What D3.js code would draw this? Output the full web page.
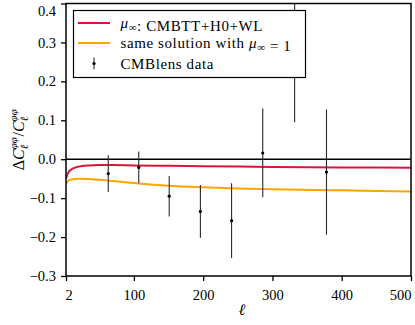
<!DOCTYPE html>
<html>
<head>
<meta charset="utf-8">
<script src="https://cdn.jsdelivr.net/npm/d3@7"></script>
<style>
  body { margin: 0; background: #fff; }
  #chart text { font-family: "Liberation Serif"; fill: #000; }
</style>
</head>
<body>
<svg id="chart" width="415" height="325"></svg>
<script>
// Data
const ellModel = [2, 5, 10, 20, 35, 50, 70, 100, 150, 200, 250, 300, 400, 500];
const muFit   = [-0.050, -0.035, -0.026, -0.019, -0.016, -0.015, -0.015, -0.016, -0.017, -0.018, -0.019, -0.020, -0.021, -0.022];
const muOne   = [-0.062, -0.056, -0.052, -0.050, -0.051, -0.053, -0.056, -0.061, -0.068, -0.072, -0.075, -0.077, -0.080, -0.083];

const ellData = [63, 107, 151, 196, 241, 286, 332, 378];
const dData   = [-0.037, -0.021, -0.095, -0.134, -0.158, 0.016, 0.29, -0.033];
const errData = [0.047, 0.041, 0.052, 0.068, 0.096, 0.114, 0.195, 0.161];

const xTicks = [2, 100, 200, 300, 400, 500];
const yTicks = [-0.3, -0.2, -0.1, 0.0, 0.1, 0.2, 0.3, 0.4];

const legendLabels = ["CMBTT+H0+WL", "same solution with ", "CMBlens data"];

const FONT = "Liberation Serif";

// Layout
var margin = {top: 3.5, right: 4, bottom: 49, left: 66};
var W = 415, H = 325;
var w = W - margin.left - margin.right;
var h = H - margin.top - margin.bottom;

var svg = d3.select("#chart");
var g = svg.append("g").attr("transform", "translate(" + margin.left + "," + margin.top + ")");

var x = d3.scaleLinear().domain([2, 500]).range([0, w]);
var y = d3.scaleLinear().domain([-0.3, 0.4]).range([h, 0]);

g.append("clipPath").attr("id", "clip")
  .append("rect").attr("width", w).attr("height", h);

var plot = g.append("g").attr("clip-path", "url(#clip)");

// zero line
plot.append("line")
  .attr("x1", 0).attr("x2", w)
  .attr("y1", y(0)).attr("y2", y(0))
  .attr("stroke", "#000").attr("stroke-width", 1.5);

var line = d3.line()
  .x(d => x(d[0]))
  .y(d => y(d[1]))
  .curve(d3.curveMonotoneX);

plot.append("path")
  .datum(ellModel.map((l, i) => [l, muOne[i]]))
  .attr("d", line)
  .attr("fill", "none").attr("stroke", "#ffa500").attr("stroke-width", 2);

plot.append("path")
  .datum(ellModel.map((l, i) => [l, muFit[i]]))
  .attr("d", line)
  .attr("fill", "none").attr("stroke", "#dc143c").attr("stroke-width", 2);

// error bars
var pts = ellData.map((l, i) => ({l: l, v: dData[i], e: errData[i]}));
plot.selectAll(".eb").data(pts).enter().append("line")
  .attr("class", "eb")
  .attr("x1", d => x(d.l)).attr("x2", d => x(d.l))
  .attr("y1", d => y(d.v - d.e)).attr("y2", d => y(d.v + d.e))
  .attr("stroke", "#2a2a2a").attr("stroke-width", 1.1);
plot.selectAll(".pt").data(pts).enter().append("circle")
  .attr("class", "pt")
  .attr("cx", d => x(d.l)).attr("cy", d => y(d.v))
  .attr("r", 1.6).attr("fill", "#000");

// axes
var xAxis = g.append("g")
  .attr("transform", "translate(0," + h + ")")
  .call(d3.axisBottom(x).tickValues(xTicks).tickSize(5).tickPadding(5).tickFormat(d3.format("d")));
var yAxis = g.append("g")
  .call(d3.axisLeft(y).tickValues(yTicks).tickSize(5).tickPadding(5).tickFormat(d3.format(".1f")));

[xAxis, yAxis].forEach(a => {
  a.attr("font-family", FONT).attr("font-size", 14.5);
  a.select(".domain").remove();
  a.selectAll("line").attr("stroke", "#000").attr("stroke-width", 1.3);
  a.selectAll("text").attr("font-size", 14.5).attr("fill", "#000");
});
xAxis.selectAll("text").attr("dy", "0.95em")
  .attr("text-anchor", d => d === 2 ? "start" : d === 500 ? "end" : "middle")
  .attr("dx", d => d === 2 ? -1 : 0);
yAxis.selectAll("text").filter(d => d === 0.4).attr("dy", "0.85em");

// frame
g.append("rect").attr("width", w).attr("height", h)
  .attr("fill", "none").attr("stroke", "#000").attr("stroke-width", 1.5);

// legend
var lg = g.append("g").attr("transform", "translate(" + (73.5 - margin.left) + "," + (10.5 - margin.top) + ")");
lg.append("rect").attr("width", 232).attr("height", 67)
  .attr("fill", "#fff").attr("stroke", "#000").attr("stroke-width", 1.2);

var rows = [12.5, 32.5, 53];
lg.append("line").attr("x1", 4.5).attr("x2", 36.5).attr("y1", rows[0]).attr("y2", rows[0])
  .attr("stroke", "#dc143c").attr("stroke-width", 2);
lg.append("line").attr("x1", 4.5).attr("x2", 36.5).attr("y1", rows[1]).attr("y2", rows[1])
  .attr("stroke", "#ffa500").attr("stroke-width", 2);
lg.append("line").attr("x1", 20.5).attr("x2", 20.5).attr("y1", rows[2] - 6).attr("y2", rows[2] + 6)
  .attr("stroke", "#2a2a2a").attr("stroke-width", 1.1);
lg.append("circle").attr("cx", 20.5).attr("cy", rows[2]).attr("r", 1.6).attr("fill", "#000");

function legText(row) {
  return lg.append("text").attr("x", 47).attr("y", row + 5)
    .attr("font-size", 15).attr("letter-spacing", 0.6);
}
function mu(t) {
  t.append("tspan").attr("font-style", "italic").text("μ");
  t.append("tspan").attr("dy", 3).attr("font-size", 11).text("∞");
  t.append("tspan").attr("dy", -3).text("");
}

var t0 = legText(rows[0]);
mu(t0);
t0.append("tspan").text(": " + legendLabels[0]);

var t1 = legText(rows[1]);
t1.append("tspan").text(legendLabels[1]);
mu(t1);
t1.append("tspan").text(" = 1");

legText(rows[2]).text(legendLabels[2]);

// axis labels
g.append("text")
  .attr("x", x(250) + 4).attr("y", h + 39)
  .attr("text-anchor", "middle").attr("font-size", 16).attr("font-style", "italic")
  .text("ℓ");

var yl = svg.append("text")
  .attr("transform", "translate(24," + (margin.top + y(0.05)) + ") rotate(-90)")
  .attr("text-anchor", "middle").attr("font-size", 16);
yl.append("tspan").text("Δ");
yl.append("tspan").attr("font-style", "italic").text("C");
yl.append("tspan").attr("dy", -7).attr("font-size", 11).attr("font-style", "italic").text("φφ");
yl.append("tspan").attr("dx", -12).attr("dy", 11).attr("font-size", 11).attr("font-style", "italic").text("ℓ");
yl.append("tspan").attr("dx", 8).attr("dy", -4).text("/");
yl.append("tspan").attr("font-style", "italic").text("C");
yl.append("tspan").attr("dy", -7).attr("font-size", 11).attr("font-style", "italic").text("φφ");
yl.append("tspan").attr("dx", -12).attr("dy", 11).attr("font-size", 11).attr("font-style", "italic").text("ℓ");
</script>
</body>
</html>
